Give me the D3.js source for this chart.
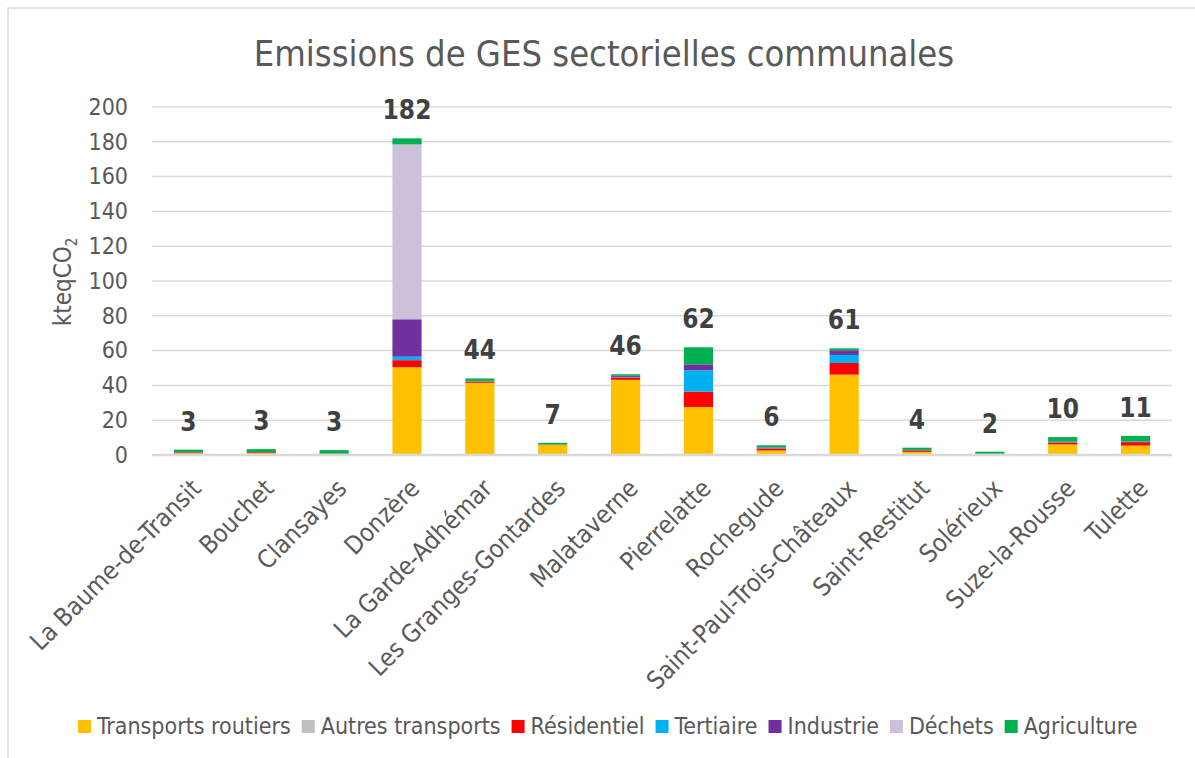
<!DOCTYPE html>
<html>
<head>
<meta charset="utf-8">
<script src="https://cdn.jsdelivr.net/npm/d3@7"></script>
<style>
  body { margin: 0; background: #fff; }
  text { font-family: "DejaVu Sans Condensed", "DejaVu Sans", sans-serif; }
</style>
</head>
<body>
<svg id="chart" width="1195" height="758"></svg>
<script>
// communes
var communes = ["La Baume-de-Transit", "Bouchet", "Clansayes", "Donzère", "La Garde-Adhémar",
	"Les Granges-Gontardes", "Malataverne", "Pierrelatte", "Rochegude", "Saint-Paul-Trois-Châteaux",
	"Saint-Restitut", "Solérieux", "Suze-la-Rousse", "Tulette"];

// secteurs (ordre d'empilement)
var secteurs = ["Transports routiers", "Autres transports", "Résidentiel", "Tertiaire", "Industrie", "Déchets", "Agriculture"];
var couleurs = ["#ffc000", "#bfbfbf", "#ff0000", "#00b0f0", "#7030a0", "#ccc0da", "#00b050"];

// kteqCO2 par secteur, une valeur par commune
var transportsRoutiers = [1.0, 1.1, 0.5, 50.5, 41.5, 5.8, 43.2, 27.6, 2.6, 46.2, 1.8, 0.5, 6.1, 5.4];
var autresTransports   = [0, 0, 0, 0, 0, 0, 0, 0, 0, 0, 0, 0, 0, 0];
var residentiel        = [0.5, 0.5, 0.3, 4.0, 0.8, 0.2, 1.4, 8.8, 1.2, 6.7, 0.9, 0.2, 1.1, 2.0];
var tertiaire          = [0.1, 0.1, 0, 2.0, 0.3, 0, 0.3, 12.3, 0.3, 4.6, 0.2, 0, 0.2, 0.2];
var industrie          = [0, 0, 0, 21.5, 0, 0, 0.6, 3.4, 0.3, 2.7, 0, 0, 0.3, 0.2];
var dechets            = [0, 0, 0, 100.5, 0, 0, 0, 0, 0, 0, 0, 0, 0, 0];
var agriculture        = [1.5, 1.7, 2.0, 3.5, 1.4, 1.0, 0.9, 9.8, 1.2, 1.1, 1.3, 1.2, 2.6, 3.2];

var yTicks = [0, 20, 40, 60, 80, 100, 120, 140, 160, 180, 200];

var series = [transportsRoutiers, autresTransports, residentiel, tertiaire, industrie, dechets, agriculture];

var rows = communes.map(function (c, i) {
	var r = { commune: c };
	secteurs.forEach(function (s, k) { r[s] = series[k][i]; });
	r.total = d3.sum(series, function (v) { return v[i]; });
	return r;
});

var svg = d3.select("#chart");
var W = 1195, H = 758;
var margin = { left: 152, right: 23, top: 107, bottom: 303 };

var grey = "#595959";

// cadre
svg.append("rect")
	.attr("x", 8).attr("y", 8)
	.attr("width", W + 10).attr("height", H + 10)
	.attr("fill", "none")
	.attr("stroke", "#d9d9d9")
	.attr("stroke-width", 1.5);

var x = d3.scaleBand()
	.domain(communes)
	.range([margin.left, W - margin.right])
	.paddingInner(0.6)
	.paddingOuter(0.3);

var y = d3.scaleLinear()
	.domain([0, 200])
	.range([H - margin.bottom, margin.top]);

// grille
svg.append("g")
	.selectAll("line")
	.data(yTicks.slice(1))
	.enter().append("line")
	.attr("x1", margin.left).attr("x2", W - margin.right)
	.attr("y1", function (d) { return y(d); })
	.attr("y2", function (d) { return y(d); })
	.attr("stroke", "#d9d9d9")
	.attr("stroke-width", 1.5);

// axe y
var yAxis = svg.append("g")
	.attr("transform", "translate(" + (margin.left - 24) + ",0)")
	.call(d3.axisLeft(y).tickValues(yTicks).tickSize(0).tickPadding(0));
yAxis.select(".domain").remove();
yAxis.selectAll("text")
	.attr("fill", grey)
	.style("font-size", "23px")
	.style("font-family", '"DejaVu Sans Condensed", "DejaVu Sans", sans-serif');

// barres empilées
var stack = d3.stack().keys(secteurs)(rows);

svg.append("g")
	.selectAll("g")
	.data(stack)
	.enter().append("g")
	.attr("fill", function (d, i) { return couleurs[i]; })
	.selectAll("rect")
	.data(function (d) { return d; })
	.enter().append("rect")
	.attr("x", function (d) { return x(d.data.commune); })
	.attr("width", x.bandwidth())
	.attr("y", function (d) { return y(d[1]); })
	.attr("height", function (d) { return y(d[0]) - y(d[1]); });

// ligne de base
svg.append("line")
	.attr("x1", margin.left).attr("x2", W - margin.right)
	.attr("y1", y(0)).attr("y2", y(0))
	.attr("stroke", "#d9d9d9")
	.attr("stroke-width", 2.5);

// totaux
svg.append("g")
	.selectAll("text")
	.data(rows)
	.enter().append("text")
	.attr("x", function (d) { return x(d.commune) + x.bandwidth() / 2; })
	.attr("y", function (d) { return y(d.total) - 19; })
	.attr("text-anchor", "middle")
	.attr("fill", "#404040")
	.style("font-size", "26px")
	.style("font-weight", "bold")
	.text(function (d) { return Math.round(d.total); });

// étiquettes x
svg.append("g")
	.selectAll("text")
	.data(communes)
	.enter().append("text")
	.attr("transform", function (d) {
		return "translate(" + (x(d) + x.bandwidth() / 2 + 14) + "," + (y(0) + 35) + ") rotate(-45)";
	})
	.attr("text-anchor", "end")
	.attr("fill", grey)
	.style("font-size", "25px")
	.text(function (d) { return d; });

// titre y
var yt = svg.append("text")
	.attr("transform", "translate(71,282) rotate(-90)")
	.attr("text-anchor", "middle")
	.attr("fill", grey)
	.style("font-size", "24px");
yt.append("tspan").text("kteqCO");
yt.append("tspan").attr("dy", "6").style("font-size", "15px").text("2");

// titre
svg.append("text")
	.attr("x", 604).attr("y", 66)
	.attr("text-anchor", "middle")
	.attr("fill", grey)
	.style("font-size", "36px")
	.text("Emissions de GES sectorielles communales");

// légende
var legend = svg.append("g").attr("transform", "translate(78,726)");
var lx = 0;
secteurs.forEach(function (s, i) {
	var g = legend.append("g").attr("transform", "translate(" + lx + ",0)");
	g.append("rect")
		.attr("x", 0).attr("y", -6)
		.attr("width", 13).attr("height", 13)
		.attr("fill", couleurs[i]);
	var t = g.append("text")
		.attr("x", 19).attr("dy", "0.35em")
		.attr("fill", grey)
		.style("font-size", "23px")
		.text(s);
	lx += 19 + t.node().getComputedTextLength() + 11;
});
</script>
</body>
</html>
